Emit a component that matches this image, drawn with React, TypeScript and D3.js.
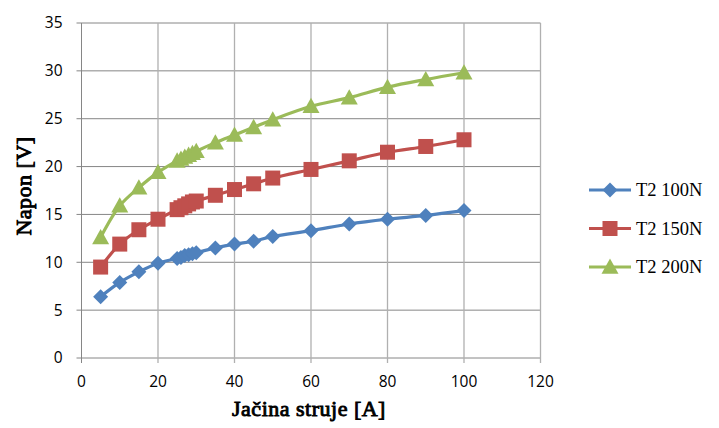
import React from "react";
import * as d3 from "d3";

// struja [A]
const current = [5, 10, 15, 20, 25, 26, 27, 28, 29, 30, 35, 40, 45, 50, 60, 70, 80, 90, 100];

const t2_100N = [6.4, 7.9, 9.0, 9.9, 10.4, 10.5, 10.7, 10.8, 10.9, 11.0, 11.5, 11.9, 12.2, 12.7, 13.3, 14.0, 14.5, 14.9, 15.4];
const t2_150N = [9.5, 11.9, 13.4, 14.5, 15.5, 15.7, 15.9, 16.1, 16.3, 16.4, 17.0, 17.6, 18.2, 18.8, 19.7, 20.6, 21.5, 22.1, 22.8];
const t2_200N = [12.6, 15.9, 17.8, 19.4, 20.6, 20.8, 21.0, 21.2, 21.4, 21.6, 22.5, 23.3, 24.1, 24.9, 26.3, 27.2, 28.3, 29.1, 29.8];

const seriesNames = ["T2 100N", "T2 150N", "T2 200N"];
const seriesColors = ["#4F81BD", "#C0504D", "#9BBB59"];
const seriesMarkers = ["diamond", "square", "triangle"];

const xTicks = [0, 20, 40, 60, 80, 100, 120];
const yTicks = [0, 5, 10, 15, 20, 25, 30, 35];

const W = 719;
const H = 428;
const margin = { left: 81.5, right: 178.5, top: 23, bottom: 70 };

function marker(kind: string, x: number, y: number, color: string, key: string | number) {
  if (kind === "diamond") {
    const r = 7.5;
    return <path key={key} d={`M${x},${y - r}L${x + r},${y}L${x},${y + r}L${x - r},${y}Z`} fill={color} />;
  }
  if (kind === "square") {
    const s = 7.5;
    return <rect key={key} x={x - s} y={y - s} width={s * 2} height={s * 2} fill={color} />;
  }
  const r = 8.5;
  return <path key={key} d={`M${x},${y - r}L${x + r},${y + r * 0.8}L${x - r},${y + r * 0.8}Z`} fill={color} />;
}

export default function App() {
  const x = d3.scaleLinear().domain([0, 120]).range([margin.left, W - margin.right]);
  const y = d3.scaleLinear().domain([0, 35]).range([H - margin.bottom, margin.top]);

  const allSeries = [t2_100N, t2_150N, t2_200N];

  const line = d3.line<[number, number]>()
    .x(d => x(d[0]))
    .y(d => y(d[1]))
    .curve(d3.curveCatmullRom.alpha(0.5));

  const tickFont = "Open Sans, Noto Sans, sans-serif";
  // no bold serif face here, so the bold look is faked with a thin stroke
  const titleStyle: React.CSSProperties = {
    fontFamily: "Liberation Serif, serif",
    fontSize: "22px",
    letterSpacing: "0.5px",
    stroke: "#000",
    strokeWidth: 0.9,
  };

  return (
    <svg width={W} height={H} style={{ position: "absolute", left: 0, top: 0, background: "#fff" }}>
      {/* grid */}
      {yTicks.map(t => (
        <line key={"gy" + t} x1={x(0) - 5} x2={x(120)} y1={y(t)} y2={y(t)} stroke="#868686" strokeWidth={1} />
      ))}
      {xTicks.map(t => (
        <line key={"gx" + t} x1={x(t)} x2={x(t)} y1={y(35)} y2={y(0) + 5} stroke={t === 0 ? "#868686" : "#b0b0b0"} strokeWidth={t === 0 ? 1 : 1.3} />
      ))}

      {/* tick labels */}
      {yTicks.map(t => (
        <text key={"ly" + t} x={x(0) - 19} y={y(t)} dy="0.35em" textAnchor="end" fontFamily={tickFont} fontSize={15.5} fill="#000">{t}</text>
      ))}
      {xTicks.map(t => (
        <text key={"lx" + t} x={x(t)} y={y(0) + 29} textAnchor="middle" fontFamily={tickFont} fontSize={15.5} fill="#000">{t}</text>
      ))}

      {/* axis titles */}
      <text x={309} y={416} textAnchor="middle" style={titleStyle}>Jačina struje [A]</text>
      <text transform="translate(31,186) rotate(-90)" textAnchor="middle" style={titleStyle}>Napon [V]</text>

      {/* series */}
      {allSeries.map((vals, si) => {
        const pts = current.map((c, i) => [c, vals[i]] as [number, number]);
        return (
          <g key={"s" + si}>
            <path d={line(pts) || ""} fill="none" stroke={seriesColors[si]} strokeWidth={3.2} />
            {pts.map((p, i) => marker(seriesMarkers[si], x(p[0]), y(p[1]), seriesColors[si], i))}
          </g>
        );
      })}

      {/* legend */}
      {seriesNames.map((name, i) => {
        const ly = 190 + i * 38.5;
        return (
          <g key={"lg" + i}>
            <line x1={589} x2={631} y1={ly} y2={ly} stroke={seriesColors[i]} strokeWidth={3.2} />
            {marker(seriesMarkers[i], 610, ly, seriesColors[i], "m")}
            <text x={636} y={ly} dy="0.35em" fontFamily="Liberation Serif, serif" fontSize={18.5}>{name}</text>
          </g>
        );
      })}
    </svg>
  );
}
